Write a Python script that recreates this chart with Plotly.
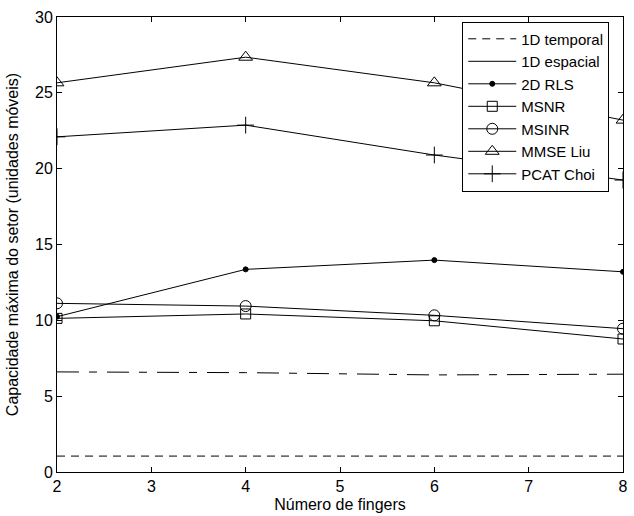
import plotly.graph_objects as go

x = [2, 4, 6, 8]
temporal_1d = [1.05, 1.05, 1.05, 1.05]
espacial_1d = [6.6, 6.55, 6.4, 6.45]
rls_2d = [10.24, 13.36, 13.97, 13.2]
msnr = [10.13, 10.42, 9.97, 8.77]
msinr = [11.12, 10.94, 10.33, 9.45]
mmse_liu = [25.66, 27.35, 25.66, 23.2]
pcat_choi = [22.1, 22.87, 20.9, 19.25]

FONT = "Liberation Sans, Arial, sans-serif"
FS = 16
fig = go.Figure()

def add(name, y, dash="solid", symbol=None, size=8, legend_dash=None):
    mode = "lines+markers" if symbol else "lines"
    marker = dict(symbol=symbol, size=size, color="black",
                  line=dict(color="black", width=1)) if symbol else None
    fig.add_trace(go.Scatter(
        x=x, y=y, name=name, mode=mode,
        line=dict(color="black", width=1, dash=dash),
        marker=marker, legendgroup=name,
        showlegend=legend_dash is None))
    if legend_dash is not None:
        fig.add_trace(go.Scatter(
            x=[None], y=[None], name=name, mode="lines",
            line=dict(color="black", width=1, dash=legend_dash),
            legendgroup=name, showlegend=True))

add("1D temporal", temporal_1d, dash="8px,6px")
add("1D espacial", espacial_1d, dash="22px,10px,8px,10px", legend_dash="solid")
add("2D RLS", rls_2d, symbol="circle", size=5)
add("MSNR", msnr, symbol="square-open", size=10)
add("MSINR", msinr, symbol="circle-open", size=11)
add("MMSE Liu", mmse_liu, symbol="triangle-up-open", size=12)
add("PCAT Choi", pcat_choi, symbol="cross-thin-open", size=12)

axis_common = dict(
    showgrid=False, zeroline=False, showline=True, linecolor="black",
    linewidth=1, mirror="ticks", ticks="inside", ticklen=5,
    tickcolor="black", tickfont=dict(family=FONT, size=FS, color="black"),
)
fig.update_xaxes(range=[2, 8], dtick=1, tick0=2,
                 title=dict(text="Número de fingers", standoff=4,
                            font=dict(family=FONT, size=FS, color="black")),
                 **axis_common)
fig.update_yaxes(range=[0, 30], dtick=5,
                 title=dict(text="Capacidade máxima do setor (unidades móveis)",
                            standoff=12,
                            font=dict(family=FONT, size=FS, color="black")),
                 **axis_common)

fig.update_layout(
    width=634, height=516,
    margin=dict(l=57, r=6, t=17, b=44),
    plot_bgcolor="white", paper_bgcolor="white",
    font=dict(family=FONT, size=FS, color="black"),
    legend=dict(x=0.716, y=0.99, xanchor="left", yanchor="top",
                bordercolor="black", borderwidth=1, bgcolor="white",
                font=dict(family=FONT, size=15, color="black"),
                tracegroupgap=0, itemwidth=48),
)

fig.write_html("out.html")
